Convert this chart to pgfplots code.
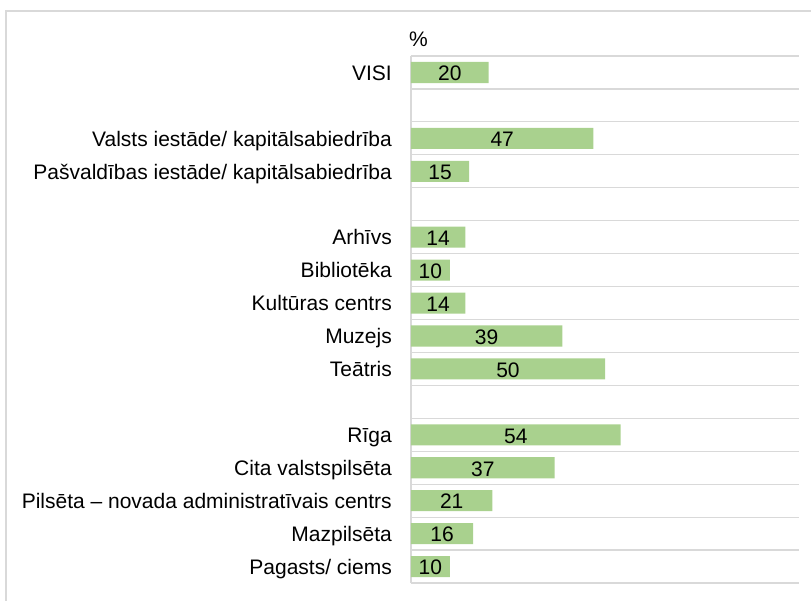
\documentclass[border=0pt]{standalone}
\usepackage{pgfplots}
\usepackage{pgfplotstable}
\pgfplotsset{compat=1.18}
\usepackage{fontspec}
\setmainfont{Liberation Sans}
\definecolor{barg}{HTML}{A9D18E}
\definecolor{gridc}{HTML}{D9D9D9}
\pgfplotstableread{
y v
0 20
2 47
3 15
5 14
6 10
7 14
8 39
9 50
11 54
12 37
13 21
14 16
15 10
}\datatab
\begin{document}
\fontsize{21bp}{25bp}\selectfont
\begin{tikzpicture}
\useasboundingbox (0bp,0bp) rectangle (811bp,-601bp);
\draw[gridc, line width=1.5bp] (6bp,-601bp) -- (6bp,-11bp) -- (811bp,-11bp);
\begin{axis}[
  at={(411bp,-583bp)}, anchor=south west,
  scale only axis, width=388bp, height=527bp,
  xmin=0, xmax=100, ymin=-0.5, ymax=15.5, y dir=reverse,
  axis x line=none, axis y line*=left,
  axis line style={gridc, line width=1.5bp},
  ytick={0,2,3,5,6,7,8,9,11,12,13,14,15},
  yticklabels={VISI, Valsts iestāde/ kapitālsabiedrība, Pašvaldības iestāde/ kapitālsabiedrība, Arhīvs, Bibliotēka, Kultūras centrs, Muzejs, Teātris, Rīga, Cita valstspilsēta, Pilsēta – novada administratīvais centrs, Mazpilsēta, Pagasts/ ciems},
  major tick length=0pt, minor tick length=0pt,
  minor ytick={-0.5,0.5,...,15.5},
  yminorgrids=true,
  minor grid style={gridc, line width=1.2bp},
  yticklabel style={anchor=base east, inner sep=0pt, xshift=-19bp, yshift=-7.8bp, font=\fontsize{21bp}{25bp}\selectfont},
  /pgf/number format/assume math mode=true,
  clip=false,
]
\addplot[xbar, bar width=0.64, fill=barg, draw=none] table[x=v, y=y] {\datatab};
\addplot[draw=none, mark=none, nodes near coords, point meta=explicit,
  every node near coord/.style={anchor=base, inner sep=0pt, yshift=-8.3bp, font=\fontsize{21bp}{25bp}\selectfont, text=black}]
  table[x expr=\thisrow{v}/2, y=y, meta=v] {\datatab};
\end{axis}
\node[anchor=base west, inner sep=0pt] at (409bp,-46.5bp) {\%};
\end{tikzpicture}
\end{document}
